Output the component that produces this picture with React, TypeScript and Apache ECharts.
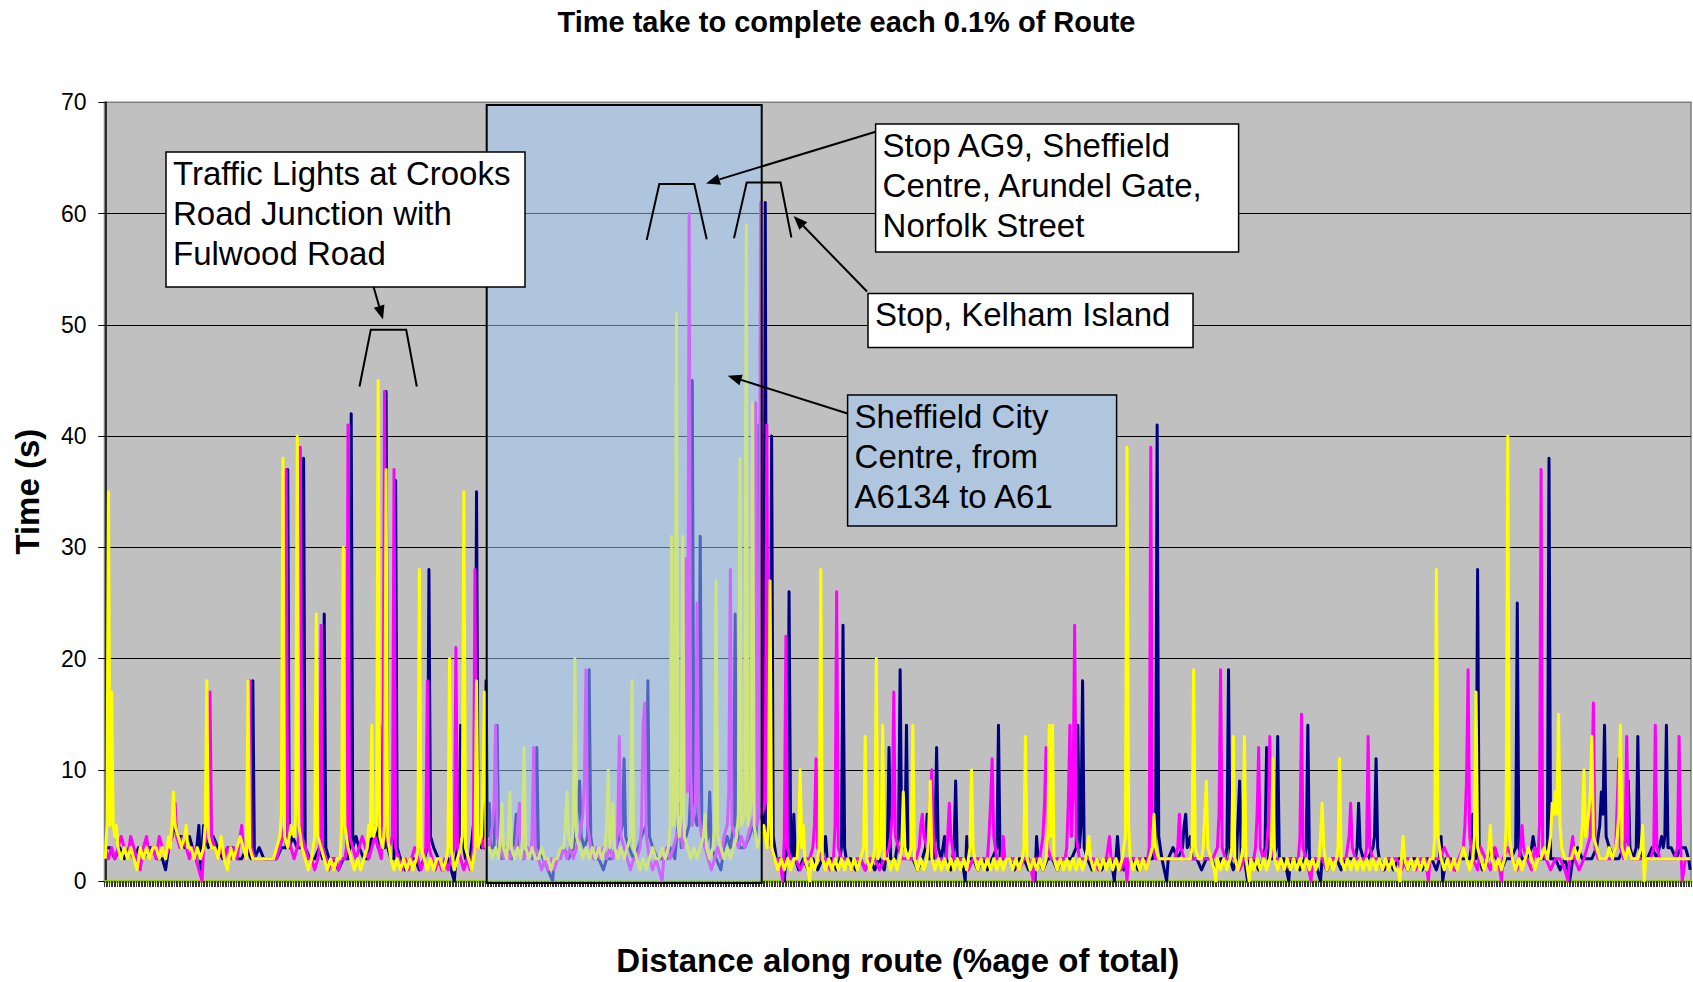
import React, { useEffect, useRef } from "react";
import * as echarts from "echarts";

const chartTitle = "Time take to complete each 0.1% of Route";
const xAxisTitle = "Distance along route (%age of total)";
const yAxisTitle = "Time (s)";
const yMin = 0;
const yMax = 70;
const yStep = 10;
const firstIndex = 0;
const lastIndex = 999;

// [index of 0.1% step, seconds]
const navyTimes: [number, number][] = [
  [0,3],[3,3],[6,2],[9,3],[12,2],[15,3],[18,2],[21,3],[24,2],[27,3],[30,3],[33,2],[36,2],[38,1],[40,3],[42,4],[44,5],[46,4],[48,4],[50,3],[53,4],[55,3],[57,2],[59,5],[60,1],[62,5],[63,4],[65,3],[68,4],[71,3],[74,2],[77,3],[80,3],[83,2],[86,2],[89,3],[92,2],[93,18],[94,2],[97,3],[100,2],[104,2],[108,2],[111,3],[114,3],[115,37],[116,3],[118,4],[121,3],[124,3],[125,38],[126,3],[129,2],[132,2],[135,3],[137,2],[138,24],[139,3],[141,2],[144,2],[147,1],[150,2],[153,2],[154,3],[155,42],[156,3],[158,4],[160,3],[163,2],[166,2],[169,5],[171,4],[172,3],[173,14],[174,4],[176,3],[177,44],[178,3],[180,2],[182,2],[183,36],[184,3],[186,2],[189,1],[192,2],[195,2],[198,1],[201,2],[203,3],[204,28],[205,4],[207,3],[210,2],[213,1],[216,2],[218,1],[220,0],[221,2],[223,4],[224,14],[225,4],[227,2],[230,2],[232,5],[233,4],[234,35],[235,4],[237,3],[239,3],[240,18],[241,4],[242,7],[243,3],[245,3],[247,14],[248,3],[250,2],[253,3],[256,2],[258,4],[259,6],[260,3],[263,2],[266,3],[269,2],[271,3],[272,12],[273,3],[276,2],[279,1],[282,0],[283,2],[286,2],[289,3],[292,2],[295,3],[297,5],[299,9],[300,4],[302,3],[304,4],[305,19],[306,4],[308,2],[311,2],[314,1],[316,2],[319,2],[322,3],[324,4],[326,5],[327,11],[328,4],[330,3],[333,2],[336,3],[338,4],[341,5],[342,18],[343,4],[345,3],[348,2],[351,2],[354,2],[356,3],[359,2],[362,7],[363,3],[366,4],[368,5],[369,8],[370,45],[371,6],[373,5],[374,8],[375,31],[376,5],[378,3],[380,4],[381,8],[382,3],[385,2],[388,1],[390,3],[392,4],[394,3],[396,5],[397,24],[398,5],[400,3],[403,3],[406,4],[408,5],[410,4],[411,6],[412,41],[413,6],[415,5],[416,61],[417,4],[419,5],[420,40],[421,4],[423,2],[426,2],[428,0],[429,2],[430,4],[431,26],[432,3],[433,2],[434,6],[435,2],[437,1],[440,2],[443,1],[446,2],[449,1],[452,2],[454,4],[455,2],[458,2],[461,1],[463,2],[464,3],[465,23],[466,3],[467,2],[470,2],[473,1],[476,2],[479,1],[482,2],[485,1],[488,2],[491,1],[493,3],[494,12],[495,2],[498,2],[500,4],[501,19],[502,3],[504,3],[505,14],[506,2],[509,2],[512,1],[515,2],[517,3],[518,6],[519,2],[522,2],[523,4],[524,12],[525,3],[527,2],[529,4],[530,2],[533,1],[535,3],[536,9],[537,2],[540,2],[542,0],[543,4],[544,2],[547,2],[550,1],[553,2],[556,1],[559,2],[562,3],[563,14],[564,2],[567,2],[570,2],[573,1],[576,2],[579,2],[582,1],[585,2],[586,0],[587,4],[588,2],[591,1],[594,2],[597,2],[600,1],[603,2],[606,2],[609,2],[612,3],[613,14],[614,3],[615,5],[616,18],[617,3],[619,2],[622,1],[625,2],[628,1],[631,2],[634,2],[636,0],[637,2],[638,4],[639,2],[642,1],[645,2],[648,2],[651,1],[654,2],[657,2],[660,2],[662,3],[663,41],[664,4],[666,2],[669,0],[670,2],[673,3],[676,2],[679,3],[680,5],[681,6],[682,3],[684,4],[685,2],[688,2],[691,1],[694,2],[697,2],[700,1],[703,2],[706,2],[707,3],[708,19],[709,2],[711,1],[713,2],[715,9],[716,2],[718,2],[720,0],[721,2],[724,2],[727,1],[730,2],[731,3],[732,12],[733,2],[736,2],[738,3],[739,13],[740,2],[743,2],[746,0],[747,2],[750,2],[753,1],[756,2],[757,3],[758,14],[759,2],[762,2],[764,1],[766,0],[767,2],[770,1],[773,2],[776,2],[779,1],[782,2],[785,2],[788,2],[789,3],[790,7],[791,3],[793,2],[796,2],[799,3],[800,4],[801,11],[802,3],[803,2],[806,1],[809,2],[812,1],[815,2],[818,2],[821,1],[824,2],[827,2],[830,1],[833,2],[836,2],[839,1],[841,2],[842,4],[843,0],[845,2],[848,2],[851,1],[854,2],[857,2],[860,2],[861,3],[862,6],[863,3],[864,2],[865,28],[866,2],[868,1],[871,2],[874,3],[877,2],[880,1],[883,2],[886,2],[889,3],[890,25],[891,3],[893,2],[896,2],[899,3],[900,4],[901,3],[904,2],[907,2],[909,3],[910,38],[911,2],[914,2],[917,1],[920,2],[922,1],[923,0],[925,2],[928,3],[931,2],[934,2],[937,2],[940,3],[942,5],[943,8],[944,6],[945,14],[946,4],[948,3],[951,2],[954,2],[957,3],[959,4],[960,9],[961,3],[963,2],[965,3],[966,13],[967,3],[969,2],[972,2],[975,3],[978,2],[981,4],[982,3],[983,4],[984,14],[985,3],[987,3],[990,2],[993,3],[996,3],[998,2],[999,1],
];

const magentaTimes: [number, number][] = [
  [0,3],[2,2],[4,3],[6,2],[8,3],[10,4],[12,3],[14,2],[16,4],[18,3],[20,2],[22,1],[24,3],[26,4],[28,2],[30,3],[32,2],[34,4],[36,3],[38,2],[40,3],[42,4],[43,5],[44,7],[45,4],[47,3],[49,4],[51,3],[53,2],[55,3],[57,2],[59,1],[61,0],[62,3],[64,4],[65,5],[66,17],[67,4],[69,3],[71,2],[73,3],[75,2],[77,3],[79,2],[81,3],[83,2],[85,4],[86,5],[87,3],[89,2],[90,4],[91,18],[92,3],[94,2],[97,2],[100,2],[104,2],[108,2],[110,3],[112,4],[113,5],[114,37],[115,4],[117,3],[119,2],[121,3],[122,4],[123,39],[124,4],[126,3],[128,2],[130,2],[132,1],[134,2],[135,3],[136,23],[137,3],[139,2],[141,1],[143,2],[145,2],[147,1],[149,2],[151,2],[152,3],[153,41],[154,4],[156,3],[158,2],[160,3],[162,4],[164,3],[166,2],[168,3],[170,4],[172,3],[174,2],[175,5],[176,44],[177,4],[179,3],[181,4],[182,37],[183,3],[185,2],[187,1],[189,2],[191,1],[193,2],[195,3],[197,2],[199,1],[201,2],[202,3],[203,18],[204,3],[206,2],[208,1],[210,2],[212,1],[214,2],[216,1],[218,2],[220,3],[221,21],[222,3],[224,2],[226,1],[228,2],[230,1],[232,3],[233,28],[234,3],[236,5],[238,3],[240,4],
  [242,3],[244,5],[245,7],[246,14],[247,4],[249,3],[251,2],[253,3],[255,2],[257,3],[259,3],[260,5],[261,7],[262,3],[264,2],[266,3],[268,2],[269,4],[270,12],[271,3],[273,2],[275,1],[277,2],[279,1],[281,2],[283,1],[285,2],[287,2],[289,3],[291,2],[293,3],[295,2],[297,3],[299,4],[301,6],[302,9],[303,19],[304,5],[306,3],[308,2],[310,3],[312,2],[314,3],[316,2],[318,3],[320,2],[322,3],[323,5],[324,13],[325,4],[327,3],[329,2],[331,1],[333,2],[335,2],[337,3],[338,5],[339,14],[340,16],[341,4],[343,2],[345,1],[347,2],[349,1],[351,0],[352,2],[354,3],[356,2],[358,3],[360,4],[362,5],[364,3],[365,6],[366,29],[367,8],[368,60],[369,10],[370,5],[372,7],[373,25],[374,6],[376,4],[378,3],[380,2],[382,1],[384,2],[386,3],[388,2],[390,4],[392,5],[393,8],[394,28],[395,5],[397,4],[399,3],[401,4],[403,3],[405,4],[407,5],[409,6],[410,43],[411,5],[412,6],[413,61],[414,6],[416,7],[417,41],[418,4],[420,3],[422,2],
  [424,2],[426,1],[427,0],[428,4],[429,22],[430,3],[432,2],[435,2],[438,1],[441,2],[444,2],[446,3],[447,5],[448,11],[449,3],[451,2],[454,2],[457,1],[459,2],[460,5],[461,26],[462,3],[464,2],[467,2],[470,1],[473,2],[476,2],[479,1],[482,2],[485,2],[488,1],[491,2],[494,3],[495,4],[496,6],[497,17],[498,4],[500,3],[502,2],[505,2],[508,2],[511,2],[513,3],[514,5],[515,6],[516,4],[518,3],[519,5],[520,8],[521,10],[522,4],[524,2],[527,2],[530,2],[531,4],[532,7],[533,4],[535,2],[538,2],[541,2],[544,1],[547,2],[550,2],[553,2],[556,2],[557,4],[558,7],[559,11],[560,4],[562,2],[565,2],[566,4],[567,2],[570,2],[573,2],[576,1],[579,2],[582,2],[585,0],[586,2],[589,2],[591,4],[592,7],[593,12],[594,3],[596,2],[599,2],[602,2],[605,2],[606,3],[607,7],[608,14],[609,4],[610,8],[611,23],[612,4],[614,2],[617,2],[620,2],[623,2],[626,1],[629,2],[631,2],[632,3],[633,4],[634,2],[637,2],[640,1],[643,2],[644,0],[645,2],[648,2],[651,2],[654,2],[656,1],[658,3],[659,39],[660,3],[662,2],[665,2],[668,2],[671,2],[674,2],[676,3],[677,6],[678,3],[680,2],[683,2],[686,2],[689,2],[692,2],[695,2],[698,2],[701,3],[702,6],[703,19],[704,3],[706,2],[709,2],[712,2],[715,1],[718,2],[721,2],[724,2],[725,3],[726,6],[727,12],[728,3],[730,2],[732,3],[733,5],[734,13],[735,3],[737,2],[740,2],[743,1],[746,2],[749,2],[752,2],[753,4],[754,15],[755,3],[757,2],[760,0],[761,2],[764,2],[767,2],[770,1],[773,2],[776,2],[779,2],[782,2],[784,4],[785,7],[786,3],[788,2],[791,2],[794,2],[795,3],[796,13],[797,3],[799,2],[802,2],[805,1],[808,2],[811,2],[814,2],[817,1],[820,2],[823,2],[826,1],[829,2],[832,2],[834,0],[835,2],[838,2],[841,2],[844,3],[847,2],[850,1],[853,2],[856,3],[857,5],[858,9],[859,19],[860,4],[862,2],[865,1],[867,3],[870,2],[873,1],[876,3],[878,2],[880,0],[881,2],[884,3],[887,2],[890,1],[892,3],[893,5],[894,3],[896,2],[899,1],[901,3],[903,2],[904,5],[905,37],[906,3],[908,2],[911,1],[914,2],[917,2],[920,1],[922,0],[923,2],[924,3],[925,4],[926,2],[929,1],[932,2],[934,3],[936,4],[937,9],[938,16],[939,3],[941,2],[944,2],[947,2],[950,2],[952,3],[953,7],[954,11],[955,3],[957,2],[958,4],[959,13],[960,3],[962,2],[965,2],[968,2],[971,2],[974,2],[976,3],[977,14],[978,3],[980,2],[983,2],[986,2],[989,2],[991,3],[992,13],[993,3],[994,0],[996,2],[999,2],
];

const yellowTimes: [number, number][] = [
  [0,2],[1,5],[2,35],[3,5],[4,17],[5,5],[6,4],[7,5],[8,3],[10,2],[12,3],[14,2],[16,3],[18,2],[20,1],[22,3],[24,2],[26,3],[28,2],[30,3],[32,3],[34,2],[36,3],[38,2],[40,4],[41,3],[42,5],[43,8],[44,5],[46,4],[48,3],[50,4],[51,5],[52,3],[54,3],[56,2],[58,3],[60,2],[62,3],[63,5],[64,18],[65,4],[67,3],[69,3],[71,2],[73,4],[75,2],[77,1],[79,3],[81,2],[83,3],[85,4],[87,3],[89,2],[90,18],[91,3],[93,2],[95,2],[98,2],[101,2],[104,2],[106,2],[108,3],[110,4],[111,6],[112,38],[113,4],[115,3],[117,5],[119,4],[120,6],[121,40],[122,5],[124,3],[126,2],[128,1],[130,2],[132,4],[133,24],[134,4],[136,3],[138,2],[140,1],[142,2],[144,1],[146,2],[148,2],[149,5],[150,30],[151,5],[153,3],[155,2],[157,1],[159,2],[161,1],[163,2],[165,3],[166,5],[167,4],[168,14],[169,4],[171,5],[172,45],[173,4],[175,3],[176,5],[177,37],[178,4],[180,2],[182,1],[184,2],[186,1],[188,2],[190,1],[192,2],[194,1],[196,2],[197,3],[198,28],[199,3],[201,2],[203,1],[205,2],[207,1],[209,2],[211,2],[213,1],[215,2],[216,3],[217,20],[218,3],[220,1],[222,2],[224,3],[225,4],[226,35],[227,3],[229,2],[231,1],[233,3],[234,18],[235,3],[237,4],[238,8],[239,17],[240,3],
  [242,3],[244,2],[246,3],[248,2],[249,4],[250,7],[251,3],[253,2],[254,4],[255,8],[256,3],[258,2],[260,3],[262,2],[263,4],[264,12],[265,3],[267,2],[269,3],[271,2],[273,2],[275,3],[277,2],[279,2],[281,1],[283,2],[285,2],[287,3],[289,3],[290,5],[291,8],[292,4],[294,3],[295,5],[296,20],[297,4],[299,3],[301,2],[303,3],[305,2],[307,3],[309,2],[311,3],[313,2],[315,3],[316,5],[317,10],[318,3],[319,4],[320,7],[321,3],[323,2],[325,3],[327,2],[329,3],[331,4],[332,18],[333,3],[335,2],[337,1],[339,2],[341,1],[343,2],[345,3],[347,2],[349,2],[351,3],[353,2],[355,3],[356,5],[357,31],[358,5],[359,6],[360,51],[361,5],[362,4],[363,6],[364,31],[365,4],[367,3],[369,2],[371,3],[373,2],[375,3],[377,4],[378,6],[379,3],[381,2],[383,3],[384,5],[385,27],[386,4],[388,3],[390,2],[392,3],[394,2],[396,3],[398,4],[399,6],[400,38],[401,5],[403,6],[404,59],[405,5],[407,7],[408,43],[409,5],[411,3],[413,4],[415,5],[417,3],[418,5],[419,27],[420,3],[422,2],
  [424,1],[426,2],[428,1],[430,2],[432,1],[434,2],[436,2],[437,4],[438,10],[439,3],[440,5],[441,2],[443,1],[444,0],[445,2],[447,1],[449,2],[450,3],[451,28],[452,2],[454,1],[456,2],[458,1],[460,2],[462,1],[464,2],[466,1],[468,2],[470,1],[472,2],[474,1],[476,2],[478,3],[479,13],[480,2],[482,1],[484,2],[485,3],[486,20],[487,2],[489,3],[490,14],[491,2],[493,2],[495,1],[497,2],[499,1],[501,2],[502,3],[503,8],[504,3],[506,2],[508,3],[509,14],[510,2],[512,1],[514,2],[516,1],[518,2],[519,4],[520,9],[521,2],[523,1],[525,2],[527,1],[529,2],[531,1],[533,2],[535,1],[537,2],[539,1],[541,2],[543,1],[545,3],[546,10],[547,3],[548,2],[550,1],[552,2],[554,1],[556,2],[558,1],[560,2],[562,1],[564,2],[566,1],[568,2],[570,2],[572,1],[574,2],[576,1],[578,2],[579,3],[580,13],[581,2],[583,1],[585,2],[587,1],[589,2],[591,1],[593,2],[594,4],[595,14],[596,4],[597,14],[598,2],[600,1],[602,2],[604,1],[606,2],[608,1],[610,2],[612,1],[614,2],[616,1],[618,2],[620,4],[621,2],[623,1],[625,2],[627,1],[629,2],[631,1],[633,2],[635,1],[637,2],[639,1],[641,2],[643,4],[644,39],[645,5],[646,2],[648,1],[650,2],[652,1],[654,2],[656,1],[658,2],[660,3],[661,6],[662,3],[664,2],[666,2],[668,2],[670,2],[672,2],[674,2],[676,2],[678,2],[680,2],[682,2],[684,2],[685,3],[686,19],[687,3],[689,2],[691,2],[692,3],[694,9],[695,3],[697,2],[699,1],[700,0],[701,2],[703,1],[705,2],[707,1],[709,2],[710,3],[711,13],[712,2],[714,1],[716,2],[717,3],[718,13],[719,2],[721,0],[722,2],[724,1],[726,2],[728,1],[730,2],[732,1],[734,2],[735,3],[736,11],[737,2],[739,1],[741,2],[743,1],[745,2],[747,1],[749,2],[751,1],[753,2],[755,1],[757,2],[759,1],[761,2],[763,1],[765,2],[766,4],[767,7],[768,3],[770,1],[772,2],[774,1],[776,2],[777,3],[778,11],[779,2],[781,1],[783,2],[785,1],[787,2],[789,1],[791,2],[793,1],[795,2],[797,1],[799,2],[801,1],[803,2],[805,1],[807,2],[809,1],[811,2],[813,1],[815,1],[816,0],[817,2],[818,4],[819,2],[821,1],[823,2],[825,1],[827,2],[829,1],[831,2],[833,1],[835,2],[837,2],[838,4],[839,28],[840,4],[842,2],[844,1],[846,2],[848,1],[850,2],[852,1],[854,2],[856,3],[858,2],[860,1],[862,2],[863,4],[864,17],[865,3],[867,2],[869,1],[871,2],[872,3],[873,5],[874,2],[876,1],[878,2],[880,1],[882,2],[883,5],[884,40],[885,4],[887,2],[889,1],[891,2],[893,1],[895,2],[897,3],[899,2],[901,1],[903,2],[905,2],[907,3],[909,2],[911,4],[912,7],[913,6],[914,8],[915,6],[916,15],[917,5],[918,3],[920,2],[922,2],[924,2],[926,3],[928,2],[930,3],[931,5],[932,10],[933,4],[935,6],[936,8],[937,13],[938,4],[940,3],[942,2],[944,2],[946,2],[948,3],[950,2],[952,3],[953,4],[954,6],[955,14],[956,3],[958,2],[960,3],[962,2],[964,2],[966,2],[968,3],[969,5],[970,0],[971,2],[973,2],[975,2],[977,2],[979,2],[981,2],[983,2],[985,2],[987,2],[989,2],[991,2],[993,2],[995,2],[997,2],[999,2],
];

const seriesNames = ["Run 1", "Run 2", "Run 3"];

const noteTrafficLights = "Traffic Lights at Crooks\nRoad Junction with\nFulwood Road";
const noteArundelGate = "Stop AG9, Sheffield\nCentre, Arundel Gate,\nNorfolk Street";
const noteKelham = "Stop, Kelham Island";
const noteCityCentre = "Sheffield City\nCentre, from\nA6134 to A61";

const FONT = '"Liberation Sans", Arial, Helvetica, sans-serif';

function arrow(x1: number, y1: number, x2: number, y2: number, z: number) {
  const dx = x2 - x1;
  const dy = y2 - y1;
  const len = Math.sqrt(dx * dx + dy * dy);
  const ux = dx / len;
  const uy = dy / len;
  const hl = 14;
  const hw = 5.5;
  const bx = x2 - ux * hl;
  const by = y2 - uy * hl;
  const px = -uy;
  const py = ux;
  return [
    { type: "line", z, shape: { x1, y1, x2: bx, y2: by }, style: { stroke: "#000", lineWidth: 2 } },
    {
      type: "polygon",
      z,
      shape: { points: [[x2, y2], [bx + px * hw, by + py * hw], [bx - px * hw, by - py * hw]] },
      style: { fill: "#000" },
    },
  ];
}

function bracket(points: number[][], z: number) {
  return { type: "polyline", z, shape: { points }, style: { stroke: "#000", lineWidth: 2, fill: null } };
}

function noteBox(x: number, y: number, w: number, h: number, text: string, fill: string, z: number) {
  return [
    { type: "rect", z, shape: { x, y, width: w, height: h }, style: { fill, stroke: "#000", lineWidth: 1.5 } },
    {
      type: "text",
      z: z + 1,
      x: x + 7,
      y: y + 1,
      style: { text, font: `33px ${FONT}`, fill: "#000", lineHeight: 40, verticalAlign: "top", align: "left" },
    },
  ];
}

export default function App() {
  const ref = useRef<HTMLDivElement>(null);

  useEffect(() => {
    document.body.style.margin = "0";
    if (!ref.current) return;
    const chart = echarts.init(ref.current, undefined, { renderer: "svg" });

    const splitColors = ["#000", "#000", "#000", "#000", "#000", "#000", "#000", "#808080"];

    const graphics: any[] = [
      {
        type: "rect",
        z: 50,
        shape: { x: 486.7, y: 105, width: 275, height: 778 },
        style: { fill: "rgba(158,202,252,0.5)", stroke: "#000", lineWidth: 2 },
      },
      ...noteBox(166, 152, 359, 135, noteTrafficLights, "#fff", 60),
      ...noteBox(875.6, 124, 363, 128, noteArundelGate, "#fff", 60),
      ...noteBox(868, 293.5, 325, 54, noteKelham, "#fff", 60),
      ...noteBox(847.6, 395, 269, 131, noteCityCentre, "#B0C6DE", 60),
      ...arrow(373.6, 287, 383, 319.6, 62),
      ...arrow(875.6, 131.7, 706, 183.5, 62),
      ...arrow(867, 291.5, 793.6, 216, 62),
      ...arrow(847.6, 413.5, 727.7, 375.7, 62),
      bracket([[359.5, 386.5], [370.8, 329.8], [406.2, 329.8], [416.8, 386.5]], 62),
      bracket([[646.7, 240], [659.3, 184], [694.3, 184], [706.7, 239.3]], 62),
      bracket([[734, 238.3], [746.7, 182.5], [780.6, 182.5], [791.4, 237.5]], 62),
    ];

    const lineSeries = (name: string, data: [number, number][], color: string, z: number) => ({
      name,
      type: "line",
      data,
      z,
      symbol: "none",
      showSymbol: false,
      lineStyle: { color, width: 3, join: "round" },
      itemStyle: { color },
      emphasis: { disabled: true },
    });

    chart.setOption({
      animation: false,
      backgroundColor: "#fff",
      title: {
        text: chartTitle,
        left: "center",
        top: 2,
        textStyle: { fontFamily: FONT, fontSize: 29, fontWeight: "bold", color: "#000" },
      },
      grid: {
        left: 104.5,
        right: 2,
        top: 102.3,
        bottom: 100.3,
        show: true,
        backgroundColor: "#C0C0C0",
        borderColor: "#808080",
        borderWidth: 1.5,
      },
      xAxis: {
        type: "value",
        min: firstIndex - 0.5,
        max: lastIndex + 0.5,
        interval: 1,
        name: xAxisTitle,
        nameLocation: "middle",
        nameGap: 63,
        nameTextStyle: { fontFamily: FONT, fontSize: 33, fontWeight: "bold", color: "#000" },
        axisLabel: { show: false },
        splitLine: { show: false },
        axisLine: { show: true, onZero: false, lineStyle: { color: "#99CC00", width: 3 } },
        axisTick: { show: true, length: 6, lineStyle: { color: "#333", width: 1 } },
      },
      yAxis: {
        type: "value",
        min: yMin,
        max: yMax,
        interval: yStep,
        name: yAxisTitle,
        nameLocation: "middle",
        nameRotate: 90,
        nameGap: 61,
        nameTextStyle: { fontFamily: FONT, fontSize: 33, fontWeight: "bold", color: "#000" },
        axisLine: { show: true, lineStyle: { color: "#000", width: 1.5 } },
        axisTick: { show: true, length: 7, lineStyle: { color: "#000", width: 1 } },
        axisLabel: { fontFamily: FONT, fontSize: 23, color: "#000", margin: 18 },
        splitLine: { show: true, lineStyle: { color: splitColors, width: 1 } },
      },
      series: [
        lineSeries(seriesNames[0], navyTimes, "#000080", 2),
        lineSeries(seriesNames[1], magentaTimes, "#FF00FF", 3),
        lineSeries(seriesNames[2], yellowTimes, "#FFFF00", 4),
      ],
      graphic: { elements: graphics },
    });

    return () => chart.dispose();
  }, []);

  return <div ref={ref} style={{ width: 1693, height: 982 }} />;
}
